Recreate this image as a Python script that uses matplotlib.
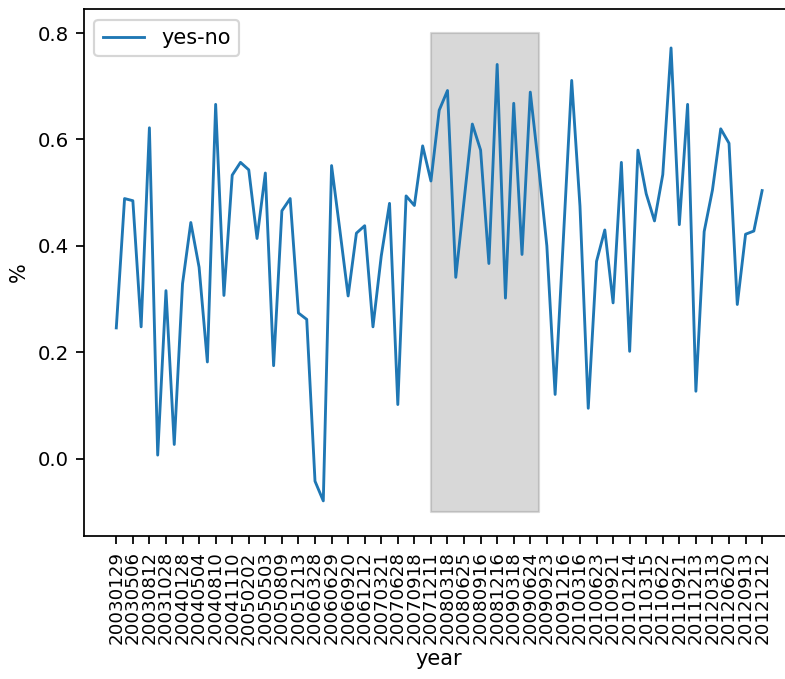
import numpy as np
import matplotlib
matplotlib.use("Agg")
import matplotlib.pyplot as plt

# FOMC statement dates
dates = [
    "20030129", "20030318", "20030506", "20030625", "20030812", "20030916", "20031028", "20031209",
    "20040128", "20040316", "20040504", "20040630", "20040810", "20040921", "20041110", "20041214",
    "20050202", "20050322", "20050503", "20050630", "20050809", "20050920", "20051213",
    "20060131", "20060328", "20060510", "20060629", "20060808", "20060920", "20061025", "20061212",
    "20070131", "20070321", "20070509", "20070628", "20070807", "20070918", "20071031", "20071211",
    "20080130", "20080318", "20080430", "20080625", "20080805", "20080916", "20081029", "20081216",
    "20090128", "20090318", "20090429", "20090624", "20090812", "20090923", "20091104", "20091216",
    "20100127", "20100316", "20100428", "20100623", "20100810", "20100921", "20101103", "20101214",
    "20110126", "20110315", "20110427", "20110622", "20110809", "20110921", "20111102", "20111213",
    "20120125", "20120313", "20120425", "20120620", "20120801", "20120913", "20121024", "20121212",
]

yes_no = [
    0.246, 0.489, 0.485, 0.248, 0.622, 0.007, 0.316, 0.027, 0.329, 0.444,
    0.360, 0.182, 0.666, 0.307, 0.533, 0.557, 0.543, 0.414, 0.537, 0.175,
    0.466, 0.489, 0.274, 0.262, -0.042, -0.079, 0.551, 0.430, 0.306, 0.424,
    0.438, 0.248, 0.381, 0.480, 0.102, 0.494, 0.476, 0.588, 0.522, 0.655,
    0.692, 0.341, 0.485, 0.629, 0.580, 0.367, 0.741, 0.302, 0.668, 0.384,
    0.689, 0.550, 0.400, 0.121, 0.415, 0.711, 0.475, 0.095, 0.371, 0.430,
    0.293, 0.557, 0.202, 0.580, 0.498, 0.447, 0.534, 0.772, 0.440, 0.666,
    0.127, 0.427, 0.505, 0.620, 0.593, 0.290, 0.422, 0.428, 0.504,
]

# shaded period (index range) and its vertical extent
shade_start, shade_end = 38, 51
shade_low, shade_high = -0.1, 0.8

x = np.arange(len(dates))

fig = plt.figure(figsize=(785 / 158, 679 / 158), dpi=158)
ax = fig.add_axes([0.107, 0.2106, 0.905, 0.776])

ax.plot(x, yes_no, label="yes-no", linewidth=1.3)
ax.fill_between([shade_start, shade_end], shade_low, shade_high, color="gray", alpha=0.3)

ax.set_xticks(x[::2])
ax.set_xticklabels(dates[::2], rotation=90, fontsize=8.3)
ax.tick_params(axis="y", labelsize=9)
ax.set_xlabel("year", fontsize=9.5, labelpad=2)
ax.set_ylabel("%", fontsize=9.5)
ax.legend(loc="upper left", fontsize=9.5)

fig.savefig("out.png", dpi=158)
